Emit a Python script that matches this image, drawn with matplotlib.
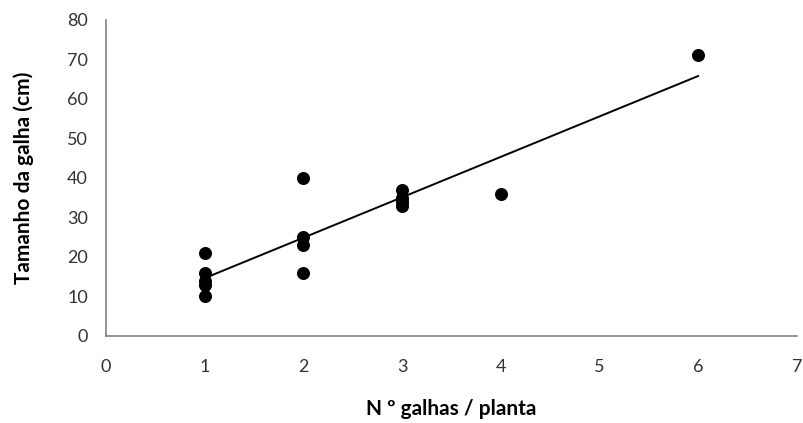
import numpy as np
import matplotlib.pyplot as plt

plt.rcParams['font.family'] = ['Lato', 'DejaVu Sans']

# galls per plant vs gall size
n_galhas = [1, 1, 1, 1, 1, 2, 2, 2, 2, 3, 3, 3, 3, 4, 6]
tamanho = [21, 16, 14, 13, 10, 40, 25, 23, 16, 37, 35, 34, 33, 36, 71]

x = np.array(n_galhas, dtype=float)
y = np.array(tamanho, dtype=float)
slope, intercept = np.polyfit(x, y, 1)
xl = np.array([x.min(), x.max()])

fig = plt.figure(figsize=(8.04, 4.23), dpi=100)
ax = fig.add_axes([0.132, 0.206, 0.859, 0.747])

ax.scatter(x, y, s=70, color='black', zorder=3)
ax.plot(xl, slope * xl + intercept, color='black', lw=1.4)

ax.set_xlim(0, 7)
ax.set_ylim(0, 80)
ax.set_xticks(range(0, 8))
ax.set_yticks(range(0, 81, 10))
ax.tick_params(length=0, labelsize=13, colors='#333333')
ax.tick_params(axis='x', pad=17)
ax.tick_params(axis='y', pad=13)

for s in ['top', 'right']:
    ax.spines[s].set_visible(False)
for s in ['left', 'bottom']:
    ax.spines[s].set_color('#808080')
    ax.spines[s].set_linewidth(1.2)

ax.set_xlabel('N º galhas / planta', fontsize=15, fontweight='bold', labelpad=17)
ax.set_ylabel('Tamanho da galha (cm)', fontsize=15, fontweight='bold', labelpad=24)

fig.savefig('out.png', dpi=100)
